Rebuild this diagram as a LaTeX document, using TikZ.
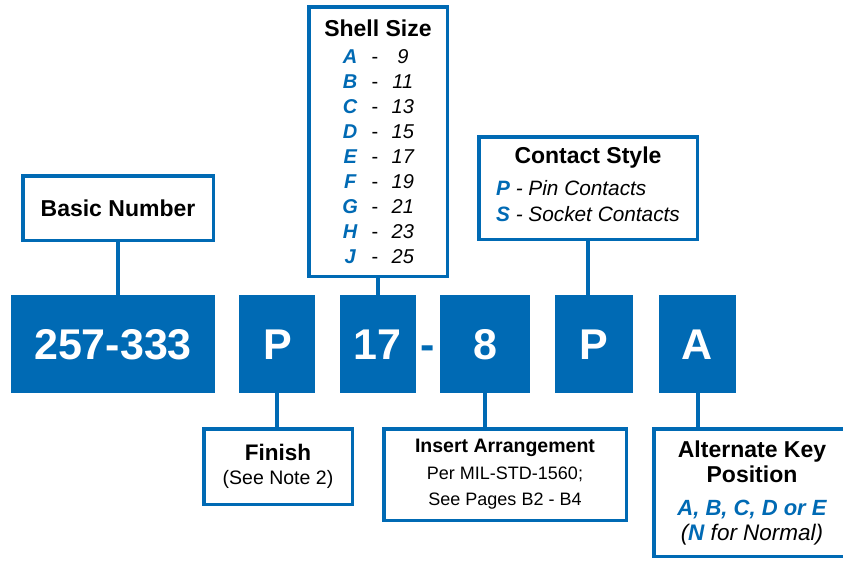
\documentclass[tikz,border=0pt]{standalone}
\usepackage{fontspec}
\setmainfont{Liberation Sans}
\usetikzlibrary{positioning, calc}
\definecolor{pnblue}{RGB}{0,106,180}
\newcommand{\keyltr}[1]{\textcolor{pnblue}{\bfseries\itshape #1}}
\newcommand{\sizerow}[2]{\makebox[16pt]{\keyltr{#1}}\hspace{13.5pt}-\hspace{13.5pt}\makebox[22pt]{\itshape #2}\hspace{6pt}}

\begin{document}
\begin{tikzpicture}[
        code/.style={fill=pnblue, text=white, font=\bfseries\fontsize{43}{50}\selectfont, minimum height=98pt, text height=31pt, text depth=0pt, inner sep=0pt},
        lbl/.style={draw=pnblue, line width=3.5pt, fill=white, align=center, inner sep=0pt},
        link/.style={draw=pnblue, line width=4pt}
    ]
        \useasboundingbox (0,0) rectangle (843pt,-560pt);
        % Part number row
        \node[code, minimum width=204pt] (num) at (113pt,-344pt) {257-333};
        \node[code, minimum width=76pt, right=24pt of num] (fin) {P};
        \node[code, minimum width=76pt, right=24pt of fin] (size) {17};
        \node[code, minimum width=90pt, right=24pt of size] (arr) {8};
        \node[code, minimum width=78pt, right=24pt of arr] (cont) {P};
        \node[code, minimum width=77pt, right=26pt of cont] (key) {A};
        \node[code, fill=none, text=pnblue] (sep) at ($(size.east)!0.5!(arr.west)$) {-};
        % Upper labels
        \node[lbl, minimum width=190.5pt, minimum height=64.5pt, font=\bfseries\fontsize{23}{27}\selectfont] (numlbl) at (118pt,-208pt) {Basic Number};
        \node[lbl, minimum width=138.5pt, minimum height=269.5pt, font=\fontsize{20}{25}\selectfont] (sizelbl) at (378pt,-141.5pt) {{\bfseries\fontsize{23}{25}\selectfont Shell Size}\\[2pt]
            \sizerow{A}{9}\\ \sizerow{B}{11}\\ \sizerow{C}{13}\\ \sizerow{D}{15}\\ \sizerow{E}{17}\\
            \sizerow{F}{19}\\ \sizerow{G}{21}\\ \sizerow{H}{23}\\ \sizerow{J}{25}};
        \node[lbl, minimum width=218.5pt, minimum height=102.5pt, font=\fontsize{20.8}{26}\selectfont] (contlbl) at (588pt,-188pt) {{\bfseries\fontsize{23}{26}\selectfont Contact Style}\\[6pt]
            \begin{tabular}[t]{@{}l@{}}\keyltr{P}\textit{ - Pin Contacts}\\ \keyltr{S}\textit{ - Socket Contacts}\end{tabular}};
        % Lower labels
        \node[lbl, minimum width=148.5pt, minimum height=75.5pt, font=\fontsize{19.5}{24}\selectfont] (finlbl) at (278pt,-466.5pt) {{\bfseries\fontsize{22.5}{24}\selectfont Finish}\\(See Note 2)};
        \node[lbl, minimum width=242.5pt, minimum height=91.5pt, font=\fontsize{18}{26}\selectfont] (arrlbl) at (505pt,-474.5pt) {{\bfseries\fontsize{19.5}{26}\selectfont Insert Arrangement}\\[1pt]Per MIL-STD-1560;\\See Pages B2 - B4};
        \node[lbl, minimum width=196.5pt, minimum height=127.5pt, font=\bfseries\fontsize{23}{25}\selectfont] (keylbl) at (752pt,-492.5pt) {Alternate Key\\Position\\[8pt]
            {\fontsize{22}{25}\selectfont\keyltr{A, B, C, D or E}}\\{\mdseries\itshape\fontsize{22.5}{25}\selectfont(\keyltr{N} for Normal)}};
        % Links
        \draw[link] (numlbl.south) -- (numlbl.south |- num.north);
        \draw[link] (sizelbl.south) -- (sizelbl.south |- size.north);
        \draw[link] (contlbl.south) -- (contlbl.south |- cont.north);
        \draw[link] (fin.south) -- (fin.south |- finlbl.north);
        \draw[link] (arr.south) -- (arr.south |- arrlbl.north);
        \draw[link] (key.south) -- (key.south |- keylbl.north);
\end{tikzpicture}
\end{document}
